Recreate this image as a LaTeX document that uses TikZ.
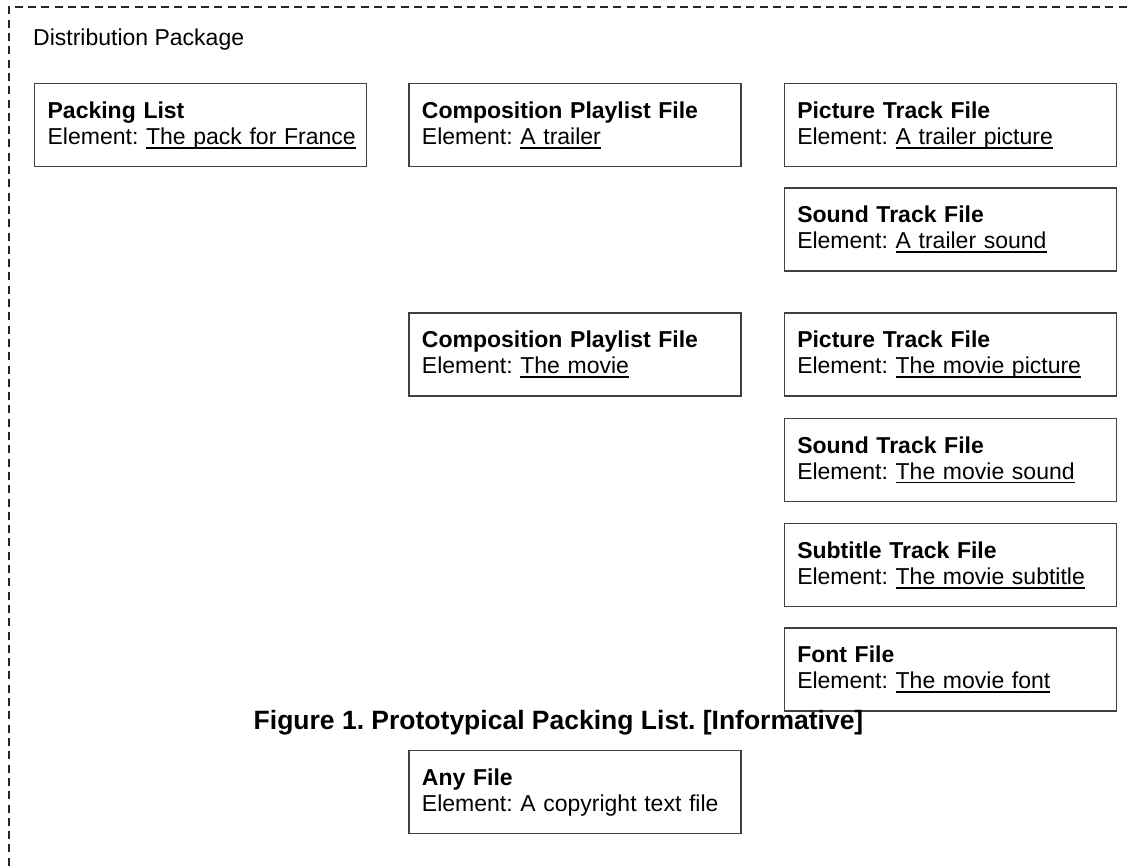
\documentclass[tikz,border=0pt]{standalone}
\usepackage{fontspec}
\setmainfont{Liberation Sans}
\usetikzlibrary{positioning}

\newsavebox\elembox
\newcommand{\elem}[1]{\sbox\elembox{#1}\rlap{\rule[-4.1pt]{\wd\elembox}{1.6pt}}\usebox\elembox}

\begin{document}
\begin{tikzpicture}[
   x=1pt, y=-1pt,
   every node/.style={font=\fontsize{23}{26}\selectfont\frenchspacing},
   filebox/.style={draw=black!75, line width=1.3pt, anchor=north west,
                   text width=306pt, inner xsep=13pt, inner ysep=0pt,
                   text height=35pt, text depth=48pt, align=left},
   frame/.style={draw=black!85, line width=1.6pt, dash pattern=on 8pt off 5.3pt}]

\useasboundingbox (0,0) rectangle (1128,866);
\draw[frame] (1140,7) -- (9,7) -- (9,880);

\node[anchor=base west, inner sep=0pt] (pkgtitle) at (33,46) {Distribution Package};

\node[filebox] (pkl) at (34,83) {\textbf{Packing List}\\Element:~\elem{The pack for France}};
\node[filebox, right=41pt of pkl] (cpltrailer) {\textbf{Composition Playlist File}\\Element:~\elem{A trailer}};
\node[filebox, right=42pt of cpltrailer] (pictrailer) {\textbf{Picture Track File}\\Element:~\elem{A trailer picture}};
\node[filebox, below=20pt of pictrailer] (sndtrailer) {\textbf{Sound Track File}\\Element:~\elem{A trailer sound}};

\node[filebox, below=145pt of cpltrailer] (cplmovie) {\textbf{Composition Playlist File}\\Element:~\elem{The movie}};
\node[filebox, right=42pt of cplmovie] (picmovie) {\textbf{Picture Track File}\\Element:~\elem{The movie picture}};
\node[filebox, below=21pt of picmovie] (sndmovie) {\textbf{Sound Track File}\\Element:~\elem{The movie sound}};
\node[filebox, below=21pt of sndmovie] (submovie) {\textbf{Subtitle Track File}\\Element:~\elem{The movie subtitle}};
\node[filebox, below=20pt of submovie] (fontmovie) {\textbf{Font File}\\Element:~\elem{The movie font}};

\node[anchor=base, inner sep=0pt, font=\fontsize{26.5}{30}\selectfont\bfseries\frenchspacing] (caption) at (558.5,729)
    {Figure 1. Prototypical Packing List. [Informative]};

\node[filebox, below=353pt of cplmovie] (anyfile) {\textbf{Any File}\\Element: A copyright text file};

\end{tikzpicture}
\end{document}
